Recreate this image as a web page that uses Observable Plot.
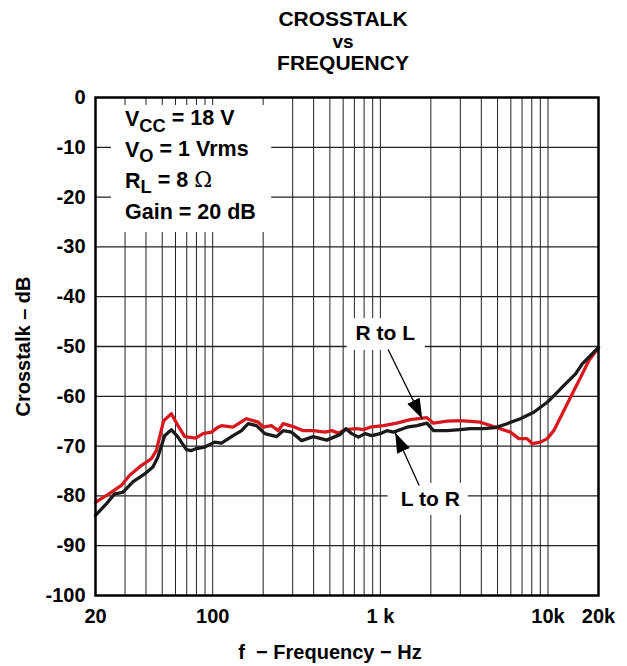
<!DOCTYPE html>
<html><head><meta charset="utf-8">
<script src="https://cdn.jsdelivr.net/npm/d3@7"></script>
<script src="https://cdn.jsdelivr.net/npm/@observablehq/plot@0.6"></script>
<style>
body{margin:0;background:#fff;}
#wrap{width:627px;font-family:"Liberation Sans",Arial,sans-serif;}
#title{height:75px;box-sizing:border-box;padding-top:8px;padding-left:59px;text-align:center;font-weight:bold;font-size:21px;line-height:21.5px;color:#000;}
</style>
</head><body>
<div id="wrap">
<div id="title">CROSSTALK<br><span style="font-size:19px">vs</span><br>FREQUENCY</div>
<div id="chart"></div>
</div>
<script>
// R to L (red)
const redFreq = [20,24.3,28.5,31.9,37.5,43.1,46.1,51,56.7,62.1,68.1,79.2,87.5,98.3,107.7,112.8,132,159,187,200,224,246,263,309,347,398,468,513,561,615,723,792,868,1042,1253,1506,1896,2076,2496,3000,3950,4850,5970,6690,7500,8040,9020,9890,10820,12160,13620,15630,17530,20000];
const redDb = [-81.3,-79.5,-77.9,-75.9,-73.9,-72.5,-70.9,-64.9,-63.5,-65.9,-68.1,-68.4,-67.5,-67.2,-66.2,-65.9,-66.2,-64.5,-65.2,-66.2,-65.9,-66.9,-65.5,-66.2,-66.9,-66.9,-67.2,-66.9,-67.4,-66.7,-66.5,-66.7,-66.2,-65.9,-65.4,-64.7,-64.3,-65.4,-65.0,-64.9,-65.2,-66.2,-67.2,-68.5,-68.5,-69.5,-69.2,-68.5,-66.9,-63.5,-60.2,-56.2,-52.8,-50.2];
// L to R (black)
const blackFreq = [20,23.2,26,29.1,33.4,39.3,44,47.1,51.7,56.7,62.1,69.7,74.7,80,89.6,102.8,112.8,132.4,148.6,162.7,182.6,204.7,240.6,263,295.6,339,398,478.6,536.6,574.8,624,675,740,810,889,997,1093,1197,1439,1652,1896,2076,2496,3000,3440,4130,4850,5700,6840,8220,9890,11350,12710,14600,16000,20000];
const blackDb = [-83.9,-81.6,-79.6,-79.3,-77.2,-75.6,-74.2,-72.2,-67.9,-66.7,-68.2,-70.7,-70.9,-70.5,-70.2,-69.2,-69.4,-67.9,-66.9,-65.5,-65.9,-67.5,-68.1,-66.9,-67.2,-68.9,-68.1,-68.8,-68.1,-67.7,-66.5,-67.5,-68.2,-67.5,-67.9,-67.5,-66.9,-67.2,-66.2,-65.9,-65.4,-66.9,-66.9,-66.7,-66.5,-66.5,-66.3,-65.5,-64.5,-63.2,-61.2,-59.2,-57.5,-55.5,-53.5,-50.2];

const xTicks = [20, 100, 1000, 10000, 20000];
const xTickLabels = ["20", "100", "1 k", "10k", "20k"];
const yTicks = [0,-10,-20,-30,-40,-50,-60,-70,-80,-90,-100];
const gridFreqs = [30,40,50,60,70,80,90,100,200,300,400,500,600,700,800,900,1000,2000,3000,4000,5000,6000,7000,8000,9000,10000];
const gridDb = [-10,-20,-30,-40,-50,-60,-70,-80,-90];

// annotation content (positions in data units)
const condMain = ["V", "V", "R", "Gain = 20 dB"];
const condSub = ["CC", "O", "L", ""];
const condRest = [" = 18 V", " = 1 Vrms", " = 8 ", ""];
const condSym = ["", "", "Ω", ""];
const condFreq = [30, 30, 30, 30];
const condDb = [-4.4, -10.5, -16.7, -23.1];
const curveLabels = ["R to L", "L to R"];
const curveLabelFreq = [1070, 1984];
const curveLabelDb = [-47.4, -80.7];
const calloutFrom = [[1112, -50.6], [1704, -77.9]];
const calloutTo = [[1777, -64.5], [1226, -67.3]];
const maskX1 = [24.9, 633, 1112];
const maskX2 = [225, 1852, 3346];
const maskY1 = [-1.6, -44.4, -77.5];
const maskY2 = [-27.1, -50.8, -83.9];

const red = redFreq.map((f, i) => ({f, db: redDb[i]}));
const black = blackFreq.map((f, i) => ({f, db: blackDb[i]}));
const cond = condMain.map((m, i) => ({f: condFreq[i], db: condDb[i], text: m + condSub[i] + condRest[i] + condSym[i]}));
const labels = curveLabels.map((t, i) => ({f: curveLabelFreq[i], db: curveLabelDb[i], text: t}));
const callouts = calloutFrom.map((a, i) => ({x1: a[0], y1: a[1], x2: calloutTo[i][0], y2: calloutTo[i][1]}));
const masks = maskX1.map((x, i) => ({x1: x, x2: maskX2[i], y1: maskY1[i], y2: maskY2[i]}));

const chart = Plot.plot({
  width: 627, height: 591,
  marginTop: 22, marginBottom: 71, marginLeft: 95, marginRight: 29,
  style: {fontFamily: "Liberation Sans, Arial, sans-serif", fontSize: "20px", fontWeight: "bold", background: "white", color: "black"},
  x: {type: "log", domain: [20, 20000], ticks: xTicks, tickFormat: d => xTickLabels[xTicks.indexOf(d)], tickSize: 0, tickPadding: 13, label: null},
  y: {domain: [-100, 0], ticks: yTicks, tickFormat: d => String(d), tickSize: 0, tickPadding: 10, label: null},
  marks: [
    Plot.ruleX(gridFreqs, {stroke: "#222", strokeWidth: 1}),
    Plot.ruleY(gridDb, {stroke: "#222", strokeWidth: 1.3}),
    Plot.rect(masks, {x1: "x1", x2: "x2", y1: "y1", y2: "y2", fill: "white"}),
    Plot.line(red, {x: "f", y: "db", stroke: "#d7191f", strokeWidth: 3.3}),
    Plot.line(black, {x: "f", y: "db", stroke: "#1a1a1a", strokeWidth: 3.3}),
    Plot.frame({stroke: "black", strokeWidth: 2.5}),
    Plot.text(cond, {x: "f", y: "db", text: "text", textAnchor: "start", fontSize: 21.5, fontWeight: "bold", fill: "black", ariaDescription: "conditions"}),
    Plot.text(labels, {x: "f", y: "db", text: "text", fontSize: 21, fontWeight: "bold", fill: "black"}),
    Plot.link(callouts, {x1: "x1", y1: "y1", x2: "x2", y2: "y2", stroke: "black", strokeWidth: 1.3, ariaDescription: "callout"}),
    Plot.text(["Crosstalk – dB"], {frameAnchor: "left", textAnchor: "middle", lineAnchor: "middle", dx: -71.5, rotate: -90, fontSize: 20, fontWeight: "bold", fill: "black"}),
    Plot.text(["f\u00a0 − Frequency − Hz"], {frameAnchor: "bottom", textAnchor: "middle", lineAnchor: "middle", dx: -17, dy: 57, fontSize: 20, fontWeight: "bold", fill: "black"})
  ]
});
document.getElementById("chart").appendChild(chart);

const svg = d3.select(chart.tagName.toLowerCase() === "svg" ? chart : chart.querySelector("svg"));
// arrowhead marker
const defs = svg.append("defs");
defs.append("marker").attr("id", "ahead").attr("viewBox", "0 0 10 10").attr("refX", 10).attr("refY", 5)
  .attr("markerUnits", "userSpaceOnUse").attr("markerWidth", 20).attr("markerHeight", 14).attr("orient", "auto")
  .attr("preserveAspectRatio", "none")
  .append("path").attr("d", "M0,0L10,5L0,10z").attr("fill", "black");
let linkGroup = svg.select('g[aria-description="callout"]');
if (linkGroup.empty()) linkGroup = svg.select('g[aria-label="link"]');
linkGroup.selectAll("path, line").attr("marker-end", "url(#ahead)");
// subscripts in conditions
let condGroup = svg.select('g[aria-description="conditions"]');
if (condGroup.empty()) condGroup = svg.select('g[aria-label="text"]');
condGroup.selectAll("text").each(function(_, i) {
  const t = d3.select(this);
  t.text(null);
  t.append("tspan").text(condMain[i]);
  if (condSub[i]) {
    t.append("tspan").attr("dy", "0.3em").attr("font-size", "0.85em").text(condSub[i]);
    t.append("tspan").attr("dy", "-0.3em").text(condRest[i]);
  }
  if (condSym[i]) t.append("tspan").attr("font-weight", "normal").attr("font-family", "DejaVu Serif, serif").text(condSym[i]);
});
</script>
</body></html>
